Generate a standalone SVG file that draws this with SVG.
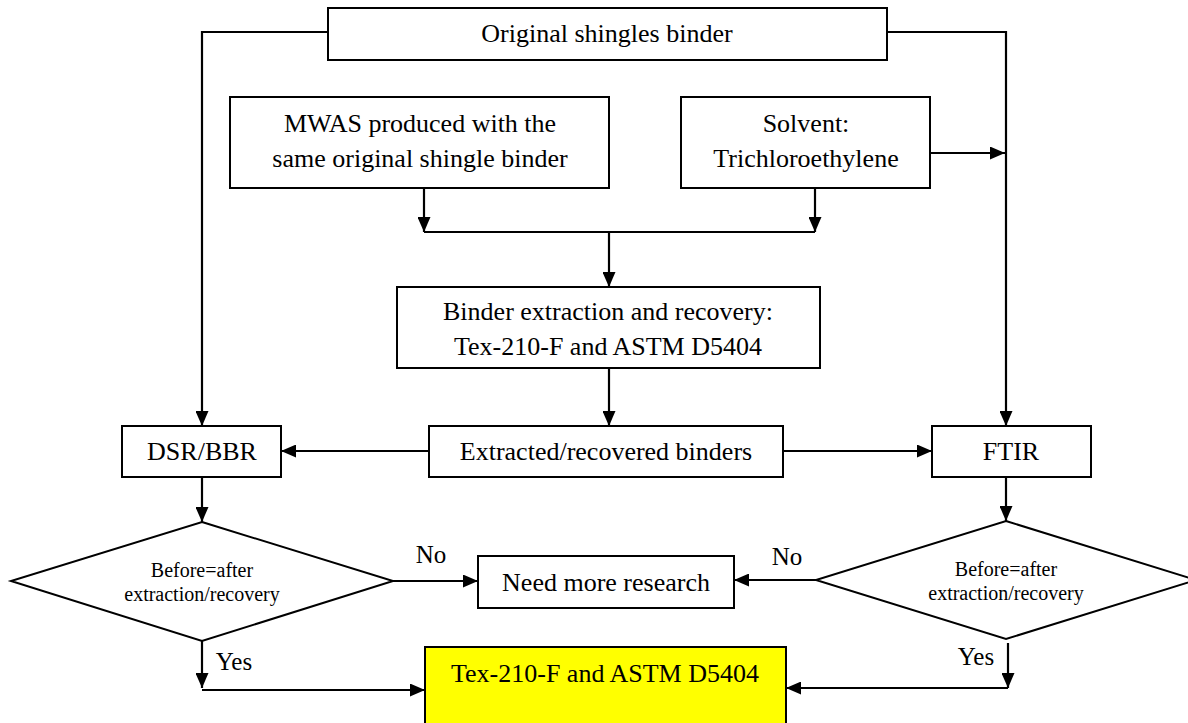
<svg xmlns="http://www.w3.org/2000/svg" width="1188" height="723" viewBox="0 0 1188 723">
<style>
.box{fill:#fff;stroke:#000;stroke-width:2}
.yel{fill:#ffff00;stroke:#000;stroke-width:2}
text{font-family:'Liberation Serif','DejaVu Serif',serif;fill:#000;text-anchor:middle}
.t{font-size:26px}
.s{font-size:20px}
.c{fill:none;stroke:#000;stroke-width:2.2}
</style>
<defs>
<marker id="ah" markerWidth="15" markerHeight="13" refX="15" refY="6.5" orient="auto" markerUnits="userSpaceOnUse"><path d="M0,0 L15,6.5 L0,13 z" fill="#000"/></marker>
</defs>
<rect width="1188" height="723" fill="#fff"/>
<g id="connectors">
<path class="c" d="M328,32 H202 V426" marker-end="url(#ah)"/>
<path class="c" d="M887,32 H1006 V426" marker-end="url(#ah)"/>
<path class="c" d="M930,153 H1005" marker-end="url(#ah)"/>
<path class="c" d="M424,188 V232" marker-end="url(#ah)"/>
<path class="c" d="M815,188 V232" marker-end="url(#ah)"/>
<path class="c" d="M424,232 H815"/>
<path class="c" d="M609,232 V287" marker-end="url(#ah)"/>
<path class="c" d="M609,368 V426" marker-end="url(#ah)"/>
<path class="c" d="M429,451 H281" marker-end="url(#ah)"/>
<path class="c" d="M783,451 H932" marker-end="url(#ah)"/>
<path class="c" d="M202,477 V522" marker-end="url(#ah)"/>
<path class="c" d="M1006,477 V521" marker-end="url(#ah)"/>
<path class="c" d="M390,581 H478" marker-end="url(#ah)"/>
<path class="c" d="M816,580 H734" marker-end="url(#ah)"/>
<path class="c" d="M202,641 V688" marker-end="url(#ah)"/>
<path class="c" d="M202,690 H425" marker-end="url(#ah)"/>
<path class="c" d="M1008,643 V688" marker-end="url(#ah)"/>
<path class="c" d="M1008,688 H786" marker-end="url(#ah)"/>
<text class="t" x="431" y="563" font-family="Liberation Serif" style="font-size:25px">No</text>
<text class="t" x="787" y="565" font-family="Liberation Serif" style="font-size:25px">No</text>
<text class="t" x="234" y="670" font-family="Liberation Serif" style="font-size:25px">Yes</text>
<text class="t" x="976" y="665" font-family="Liberation Serif" style="font-size:25px">Yes</text>
</g>
<g id="original">
<rect class="box" x="328" y="8" width="559" height="52"/>
<text class="t" x="607" y="42">Original shingles binder</text>
</g>
<g id="mwas">
<rect class="box" x="230" y="97" width="379" height="91"/>
<text class="t" x="420" y="132">MWAS produced with the</text>
<text class="t" x="420" y="167">same original shingle binder</text>
</g>
<g id="solvent">
<rect class="box" x="681" y="97" width="249" height="91"/>
<text class="t" x="806" y="132">Solvent:</text>
<text class="t" x="806" y="167">Trichloroethylene</text>
</g>
<g id="extraction">
<rect class="box" x="397" y="287" width="423" height="81"/>
<text class="t" x="608" y="320">Binder extraction and recovery:</text>
<text class="t" x="608" y="355">Tex-210-F and ASTM D5404</text>
</g>
<g id="extracted">
<rect class="box" x="429" y="426" width="354" height="51"/>
<text class="t" x="606" y="460">Extracted/recovered binders</text>
</g>
<g id="dsr">
<rect class="box" x="122" y="426" width="159" height="51"/>
<text class="t" x="202" y="460">DSR/BBR</text>
</g>
<g id="ftir">
<rect class="box" x="932" y="426" width="159" height="51"/>
<text class="t" x="1011" y="460">FTIR</text>
</g>
<g id="decision-left">
<polygon class="box" points="202,522 393,581 202,641 11,581"/>
<text class="s" x="202" y="577">Before=after</text>
<text class="s" x="202" y="601">extraction/recovery</text>
</g>
<g id="decision-right">
<polygon class="box" points="1006,521 1196,580 1006,639 816,580"/>
<text class="s" x="1006" y="576">Before=after</text>
<text class="s" x="1006" y="600">extraction/recovery</text>
</g>
<g id="need">
<rect class="box" x="478" y="556" width="256" height="52"/>
<text class="t" x="606" y="591">Need more research</text>
</g>
<g id="result">
<rect class="yel" x="425" y="647" width="361" height="90"/>
<text class="t" x="605" y="682">Tex-210-F and ASTM D5404</text>
</g>
</svg>
